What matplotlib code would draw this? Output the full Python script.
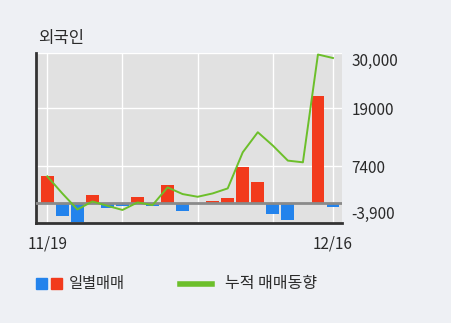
import matplotlib
matplotlib.use("Agg")
import matplotlib.pyplot as plt
from matplotlib.patches import Rectangle
from matplotlib.lines import Line2D
import numpy as np

plt.rcParams['font.family'] = ['Noto Sans CJK KR', 'DejaVu Sans']

title = "외국인"
x_labels = ["11/19", "12/16"]
daily = [5500, -2600, -3800, 1730, -930, -600, 1330, -600, 3730, -1600,
         0, 530, 1130, 7200, 4330, -2200, -3400, 0, 21500, -800]
cumulative = [5400, 2000, -1200, 400, -470, -1300, 200, -330, 3200, 1870,
              1330, 2000, 3000, 10200, 14200, 11540, 8540, 8200, 29700, 29000]
y_ticks = [-3900, 7400, 19000, 30000]
y_tick_labels = ["-3,900", "7400", "19000", "30,000"]
legend_labels = ["일별매매", "누적 매매동향"]

RED = "#f23a1c"
BLUE = "#2383ec"
GREEN = "#6cbf2a"
FIG_BG = "#eef0f4"
AX_BG = "#e1e1e1"
TXT = "#2a2a2a"

W, H = 451, 323
fig = plt.figure(figsize=(W / 100, H / 100), dpi=100, facecolor=FIG_BG)
ax = fig.add_axes([36 / W, 1 - 223 / H, (342 - 36) / W, (223 - 53) / H])
ax.set_facecolor(AX_BG)

x = np.arange(len(daily))
colors = [RED if v >= 0 else BLUE for v in daily]
ax.bar(x, daily, width=0.85, color=colors, zorder=3)
ax.axhline(0, color="#8a8a8a", lw=2, zorder=4)
ax.plot(x, cumulative, color=GREEN, lw=1.4, zorder=5)

ax.set_xlim(-0.75, 19.6)
ax.set_ylim(-3900, 30000)

# grid
for gx in [0, 5, 10, 15, 19]:
    ax.axvline(gx, color="white", lw=1, zorder=1)
for gy in [7400, 19000, 30000]:
    ax.axhline(gy, color="white", lw=1, zorder=1)

ax.yaxis.tick_right()
ax.set_yticks(y_ticks)
ax.set_yticklabels(y_tick_labels)
ax.tick_params(axis='y', length=0, pad=7, labelsize=11, colors=TXT)
tl = ax.get_yticklabels()
tl[0].set_va('bottom')
tl[-1].set_va('top')

ax.set_xticks([0, 19])
ax.set_xticklabels(x_labels)
ax.tick_params(axis='x', length=0, pad=9, labelsize=11, colors=TXT)

for s in ["top", "right"]:
    ax.spines[s].set_visible(False)
ax.spines["left"].set_color("#333333")
ax.spines["left"].set_linewidth(2)
ax.spines["bottom"].set_color("#333333")
ax.spines["bottom"].set_linewidth(2)

fig.text(38 / W, 1 - 38 / H, title, fontsize=12, va="center", ha="left", color=TXT)

# legend
fig.patches.append(Rectangle((36 / W, 1 - 289 / H), 11 / W, 11 / H, transform=fig.transFigure,
                             color=BLUE, figure=fig))
fig.patches.append(Rectangle((51 / W, 1 - 289 / H), 11 / W, 11 / H, transform=fig.transFigure,
                             color=RED, figure=fig))
fig.text(69 / W, 1 - 283.5 / H, legend_labels[0], fontsize=11, va="center", ha="left", color=TXT)
fig.lines.append(Line2D([180 / W, 212 / W], [1 - 283.5 / H, 1 - 283.5 / H], transform=fig.transFigure,
                        color=GREEN, lw=4, figure=fig))
fig.text(225 / W, 1 - 283.5 / H, legend_labels[1], fontsize=11.5, va="center", ha="left", color=TXT)

fig.savefig("out.png", dpi=100, facecolor=FIG_BG)
